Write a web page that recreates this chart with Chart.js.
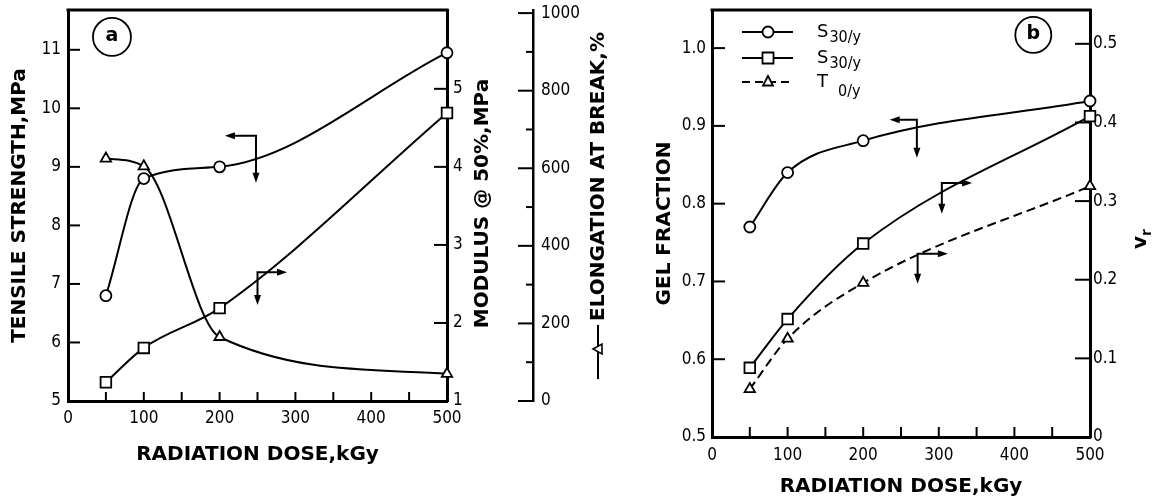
<!DOCTYPE html>
<html>
<head>
<meta charset="utf-8">
<script src="https://cdn.jsdelivr.net/npm/chart.js@4.4.0/dist/chart.umd.min.js"></script>
<style>
  html, body { margin: 0; padding: 0; background: #fff; }
  #chartA { position: absolute; left: 0; top: 0; }
  #chartB { position: absolute; left: 612px; top: 0; }
</style>
</head>
<body>
<canvas id="chartA" width="612" height="503"></canvas>
<canvas id="chartB" width="549" height="503"></canvas>
<script>
// ---- panel (a) data ----
const doseA = [50, 100, 200, 500];
const tensileStrength = [6.8, 8.8, 9.0, 10.95];   // MPa, left axis
const modulus50 = [1.24, 1.68, 2.19, 4.69];        // MPa, inner right axis
const elongationBreak = [625, 605, 165, 70];       // %, outer right axis

const doseTicks = [0, 100, 200, 300, 400, 500];
const doseMinorTicks = [50, 150, 250, 350, 450];
const tensileTicks = [5, 6, 7, 8, 9, 10, 11];
const modulusTicks = [1, 2, 3, 4, 5];
const elongationTicks = [0, 200, 400, 600, 800, 1000];
const elongationMinorTicks = [100, 300, 500, 700, 900];

// ---- panel (b) data ----
const doseB = [50, 100, 200, 500];
const gelS30 = [0.77, 0.84, 0.881, 0.932];         // gel fraction, left axis
const vrS30 = [0.088, 0.150, 0.246, 0.408];        // vr, right axis
const vrT0 = [0.061, 0.125, 0.196, 0.319];         // vr, right axis

const gelTicks = [0.5, 0.6, 0.7, 0.8, 0.9, 1.0];
const vrTicks = [0, 0.1, 0.2, 0.3, 0.4, 0.5];

const legendMain = ['S', 'S', 'T'];
const legendSub = ['30/y', '30/y', '0/y'];

// ---- look ----
const TICK_FONT = { family: "'DejaVu Sans Condensed', 'DejaVu Sans', sans-serif", size: 17 };
const TITLE_FONT = { family: "'DejaVu Sans', sans-serif", size: 20, weight: 'bold' };
const TITLE_CSS = "bold 20px 'DejaVu Sans', sans-serif";

Chart.defaults.color = '#000';

function pts(xs, ys) {
    return xs.map((x, i) => ({ x: x, y: ys[i] }));
}

const lineStyle = {
    borderColor: '#000',
    borderWidth: 2,
    pointBackgroundColor: '#fff',
    pointBorderColor: '#000',
    pointBorderWidth: 1.8,
    cubicInterpolationMode: 'monotone',
    clip: false,
    fill: false
};

function tickOpts(padding, fmt) {
    return {
        color: '#000',
        font: TICK_FONT,
        padding: padding,
        maxRotation: 0,
        autoSkip: false,
        callback: fmt || (v => String(v))
    };
}

// fixed box size, no extra label overhang padding so the plot frame lands where the figure has it
function fixSize(size) {
    return s => {
        if (s.isHorizontal()) s.height = size; else s.width = size;
        s.paddingTop = 0; s.paddingBottom = 0; s.paddingLeft = 0; s.paddingRight = 0;
    };
}

function axisBase(min, max, position, tickValues) {
    return {
        type: 'linear',
        min: min,
        max: max,
        position: position,
        grid: { display: false, drawTicks: false },
        border: { display: true, width: 3, color: '#000' },
        afterBuildTicks: scale => { scale.ticks = tickValues.map(v => ({ value: v })); }
    };
}

function arrowHead(ctx, x, y, dx, dy) {
    const L = 10, W = 3.5;
    ctx.beginPath();
    ctx.moveTo(x, y);
    ctx.lineTo(x - dx * L - dy * W, y - dy * L + dx * W);
    ctx.lineTo(x - dx * L + dy * W, y - dy * L - dx * W);
    ctx.closePath();
    ctx.fill();
}

function marker(ctx, style, x, y) {
    ctx.beginPath();
    if (style === 'circle') ctx.arc(x, y, 5.5, 0, Math.PI * 2);
    else if (style === 'rect') ctx.rect(x - 5.5, y - 5.5, 11, 11);
    else { ctx.moveTo(x, y - 6); ctx.lineTo(x + 5, y + 3.5); ctx.lineTo(x - 5, y + 3.5); ctx.closePath(); }
    ctx.fillStyle = '#fff';
    ctx.fill();
    ctx.lineWidth = 1.8;
    ctx.stroke();
    ctx.fillStyle = '#000';
}

// frame top, inward tick marks, direction arrows, circled panel letter, extra titles
function decorPlugin(cfg) {
    return {
        id: 'decor',
        beforeDatasetsDraw(chart) {
            const { ctx, chartArea: a } = chart;
            ctx.save();
            ctx.strokeStyle = '#000';
            ctx.lineWidth = 3;
            ctx.beginPath();
            ctx.moveTo(a.left - 1.5, a.top);
            ctx.lineTo(a.right + 1.5, a.top);
            ctx.stroke();
            ctx.lineWidth = 2;
            cfg.ticks.forEach(t => {
                const s = chart.scales[t.id];
                t.values.forEach(v => {
                    const p = s.getPixelForValue(v);
                    ctx.beginPath();
                    if (s.isHorizontal()) { ctx.moveTo(p, s.top); ctx.lineTo(p, s.top - t.len); }
                    else if (s.position === 'left') { ctx.moveTo(s.right, p); ctx.lineTo(s.right + t.len, p); }
                    else { ctx.moveTo(s.left, p); ctx.lineTo(s.left - t.len, p); }
                    ctx.stroke();
                });
            });
            ctx.restore();
        },
        afterDraw(chart) {
            const { ctx } = chart;
            const xs = chart.scales.x;
            ctx.save();
            ctx.strokeStyle = '#000';
            ctx.fillStyle = '#000';
            ctx.lineWidth = 2;
            cfg.arrows.forEach(ar => {
                const ys = chart.scales[ar.scale];
                const cx = xs.getPixelForValue(ar.x), cy = ys.getPixelForValue(ar.y);
                const hx = xs.getPixelForValue(ar.hx), vy = ys.getPixelForValue(ar.vy);
                const dir = hx < cx ? -1 : 1;
                ctx.beginPath();
                ctx.moveTo(hx - dir * 8, cy); ctx.lineTo(cx, cy); ctx.lineTo(cx, vy - 8);
                ctx.stroke();
                arrowHead(ctx, hx, cy, dir, 0);
                arrowHead(ctx, cx, vy, 0, 1);
            });
            const lab = cfg.letter;
            const lx = xs.getPixelForValue(lab.x), ly = chart.scales[lab.scale].getPixelForValue(lab.y);
            ctx.lineWidth = 1.8;
            ctx.beginPath();
            ctx.arc(lx, ly, lab.r, 0, Math.PI * 2);
            ctx.stroke();
            ctx.font = "bold 19px 'DejaVu Sans', sans-serif";
            ctx.textAlign = 'center';
            ctx.textBaseline = 'middle';
            ctx.fillText(lab.text, lx, ly - 1);
            if (cfg.extra) cfg.extra(chart, ctx);
            ctx.restore();
        }
    };
}

// ---- panel (a) ----
new Chart(document.getElementById('chartA'), {
    type: 'line',
    data: {
        datasets: [
            Object.assign({ label: 'Tensile strength', data: pts(doseA, tensileStrength), yAxisID: 'yL', pointStyle: 'circle', pointRadius: 5.5 }, lineStyle),
            Object.assign({ label: 'Modulus @ 50%', data: pts(doseA, modulus50), yAxisID: 'yM', pointStyle: 'rect', pointRadius: 7.5 }, lineStyle),
            Object.assign({ label: 'Elongation at break', data: pts(doseA, elongationBreak), yAxisID: 'yE', pointStyle: 'triangle', pointRadius: 6 }, lineStyle)
        ]
    },
    options: {
        responsive: false,
        animation: false,
        events: [],
        layout: { padding: { top: 10, left: 0, right: 0, bottom: 0 } },
        plugins: { legend: { display: false }, tooltip: { enabled: false } },
        scales: {
            x: Object.assign(axisBase(0, 500, 'bottom', doseTicks), {
                ticks: tickOpts(7),
                afterFit: fixSize(102),
                title: { display: true, text: 'RADIATION DOSE,kGy', font: TITLE_FONT, color: '#000', padding: { top: 0, bottom: 36 } }
            }),
            yL: Object.assign(axisBase(5, 11.68, 'left', tensileTicks), {
                ticks: tickOpts(7),
                afterFit: fixSize(68),
                title: { display: true, text: 'TENSILE STRENGTH,MPa', font: TITLE_FONT, color: '#000', padding: { top: 8, bottom: 0 } }
            }),
            yM: Object.assign(axisBase(1, 6.01, 'right', modulusTicks), {
                weight: 0,
                ticks: tickOpts(6),
                afterFit: fixSize(86)
            }),
            yE: Object.assign(axisBase(0, 1008, 'right', elongationTicks), {
                weight: 1,
                border: { display: true, width: 2.5, color: '#000' },
                ticks: tickOpts(8),
                afterFit: fixSize(79)
            })
        }
    },
    plugins: [decorPlugin({
        ticks: [
            { id: 'x', values: doseTicks.concat(doseMinorTicks), len: 9 },
            { id: 'yL', values: tensileTicks, len: 12 },
            { id: 'yM', values: modulusTicks, len: 13 },
            { id: 'yE', values: elongationTicks, len: 15 },
            { id: 'yE', values: elongationMinorTicks, len: 7 }
        ],
        arrows: [
            { scale: 'yL', x: 248, y: 9.53, hx: 207, vy: 8.73 },
            { scale: 'yM', x: 250, y: 2.65, hx: 289, vy: 2.23 }
        ],
        letter: { scale: 'yL', x: 58, y: 11.22, r: 19, text: 'a' },
        extra(chart, ctx) {
            const yM = chart.scales.yM, yE = chart.scales.yE;
            const cy = (yM.top + yM.bottom) / 2;
            ctx.font = TITLE_CSS;
            ctx.textBaseline = 'middle';
            // modulus title
            ctx.save();
            ctx.translate(yM.left + 36, cy - 2);
            ctx.rotate(-Math.PI / 2);
            ctx.textAlign = 'center';
            ctx.fillText('MODULUS @ 50%,MPa', 0, 0);
            ctx.restore();
            // elongation title with its series symbol
            const text = 'ELONGATION AT BREAK,%';
            const w = ctx.measureText(text).width;
            const total = 58 + w;
            ctx.save();
            ctx.translate(yE.left + 65, cy);
            ctx.rotate(-Math.PI / 2);
            const u0 = -total / 2;
            ctx.lineWidth = 2;
            ctx.beginPath();
            ctx.moveTo(u0, 0); ctx.lineTo(u0 + 54, 0);
            ctx.stroke();
            ctx.beginPath();
            ctx.moveTo(u0 + 30, -5); ctx.lineTo(u0 + 35, 4); ctx.lineTo(u0 + 25, 4); ctx.closePath();
            ctx.fillStyle = '#fff'; ctx.fill(); ctx.lineWidth = 1.6; ctx.stroke();
            ctx.fillStyle = '#000';
            ctx.textAlign = 'left';
            ctx.fillText(text, u0 + 58, 1);
            ctx.restore();
        }
    })]
});

// ---- panel (b) ----
new Chart(document.getElementById('chartB'), {
    type: 'line',
    data: {
        datasets: [
            Object.assign({ label: legendMain[0] + legendSub[0], data: pts(doseB, gelS30), yAxisID: 'gel', pointStyle: 'circle', pointRadius: 5.5 }, lineStyle),
            Object.assign({ label: legendMain[1] + legendSub[1], data: pts(doseB, vrS30), yAxisID: 'vr', pointStyle: 'rect', pointRadius: 7.5 }, lineStyle),
            Object.assign({ label: legendMain[2] + legendSub[2], data: pts(doseB, vrT0), yAxisID: 'vr', pointStyle: 'triangle', pointRadius: 6 }, lineStyle, { borderDash: [9, 5] })
        ]
    },
    options: {
        responsive: false,
        animation: false,
        events: [],
        layout: { padding: { top: 10, left: 0, right: 0, bottom: 0 } },
        plugins: { legend: { display: false }, tooltip: { enabled: false } },
        scales: {
            x: Object.assign(axisBase(0, 500, 'bottom', doseTicks), {
                ticks: tickOpts(8),
                afterFit: fixSize(66),
                title: { display: true, text: 'RADIATION DOSE,kGy', font: TITLE_FONT, color: '#000', padding: { top: 0, bottom: 4 } }
            }),
            gel: Object.assign(axisBase(0.5, 1.049, 'left', gelTicks), {
                ticks: tickOpts(6, v => v.toFixed(1)),
                afterFit: fixSize(100),
                title: { display: true, text: 'GEL FRACTION', font: TITLE_FONT, color: '#000', padding: { top: 41, bottom: 0 } }
            }),
            vr: Object.assign(axisBase(0, 0.543, 'right', vrTicks), {
                ticks: tickOpts(3, v => v === 0 ? '0' : v.toFixed(1)),
                afterFit: fixSize(71)
            })
        }
    },
    plugins: [decorPlugin({
        ticks: [
            { id: 'x', values: doseTicks.concat(doseMinorTicks), len: 10 },
            { id: 'gel', values: gelTicks, len: 13 },
            { id: 'vr', values: vrTicks, len: 15 }
        ],
        arrows: [
            { scale: 'gel', x: 271, y: 0.908, hx: 235, vy: 0.859 },
            { scale: 'vr', x: 304, y: 0.323, hx: 344, vy: 0.284 },
            { scale: 'vr', x: 272, y: 0.233, hx: 312, vy: 0.195 }
        ],
        letter: { scale: 'gel', x: 425, y: 1.017, r: 18, text: 'b' },
        extra(chart, ctx) {
            const a = chart.chartArea, vr = chart.scales.vr;
            // right axis title v with subscript r
            ctx.save();
            ctx.translate(vr.left + 50, (vr.top + vr.bottom) / 2 + 16);
            ctx.rotate(-Math.PI / 2);
            ctx.textAlign = 'left';
            ctx.textBaseline = 'alphabetic';
            ctx.font = TITLE_CSS;
            const vw = ctx.measureText('v').width;
            ctx.fillText('v', -vw / 2 - 3, 6);
            ctx.font = "bold 14px 'DejaVu Sans', sans-serif";
            ctx.fillText('r', vw / 2 - 3, 11);
            ctx.restore();
            // legend
            const styles = ['circle', 'rect', 'triangle'];
            const rowY = [22, 48, 72];
            const subDrop = [6, 6, 10];
            ctx.save();
            styles.forEach((st, i) => {
                const y = a.top + rowY[i];
                ctx.lineWidth = 2;
                ctx.setLineDash(i === 2 ? [8, 5] : []);
                ctx.beginPath();
                ctx.moveTo(a.left + 30, y); ctx.lineTo(a.left + 81, y);
                ctx.stroke();
                ctx.setLineDash([]);
                marker(ctx, st, a.left + 56, y);
                ctx.textAlign = 'left';
                ctx.textBaseline = 'middle';
                ctx.font = "18px 'DejaVu Sans', sans-serif";
                ctx.fillText(legendMain[i], a.left + 105, y);
                const mw = ctx.measureText(legendMain[i]).width;
                ctx.font = "16px 'DejaVu Sans Condensed', 'DejaVu Sans', sans-serif";
                ctx.fillText(legendSub[i], a.left + 105 + mw + (i === 2 ? 10 : 1), y + subDrop[i]);
            });
            ctx.restore();
        }
    })]
});
</script>
</body>
</html>
